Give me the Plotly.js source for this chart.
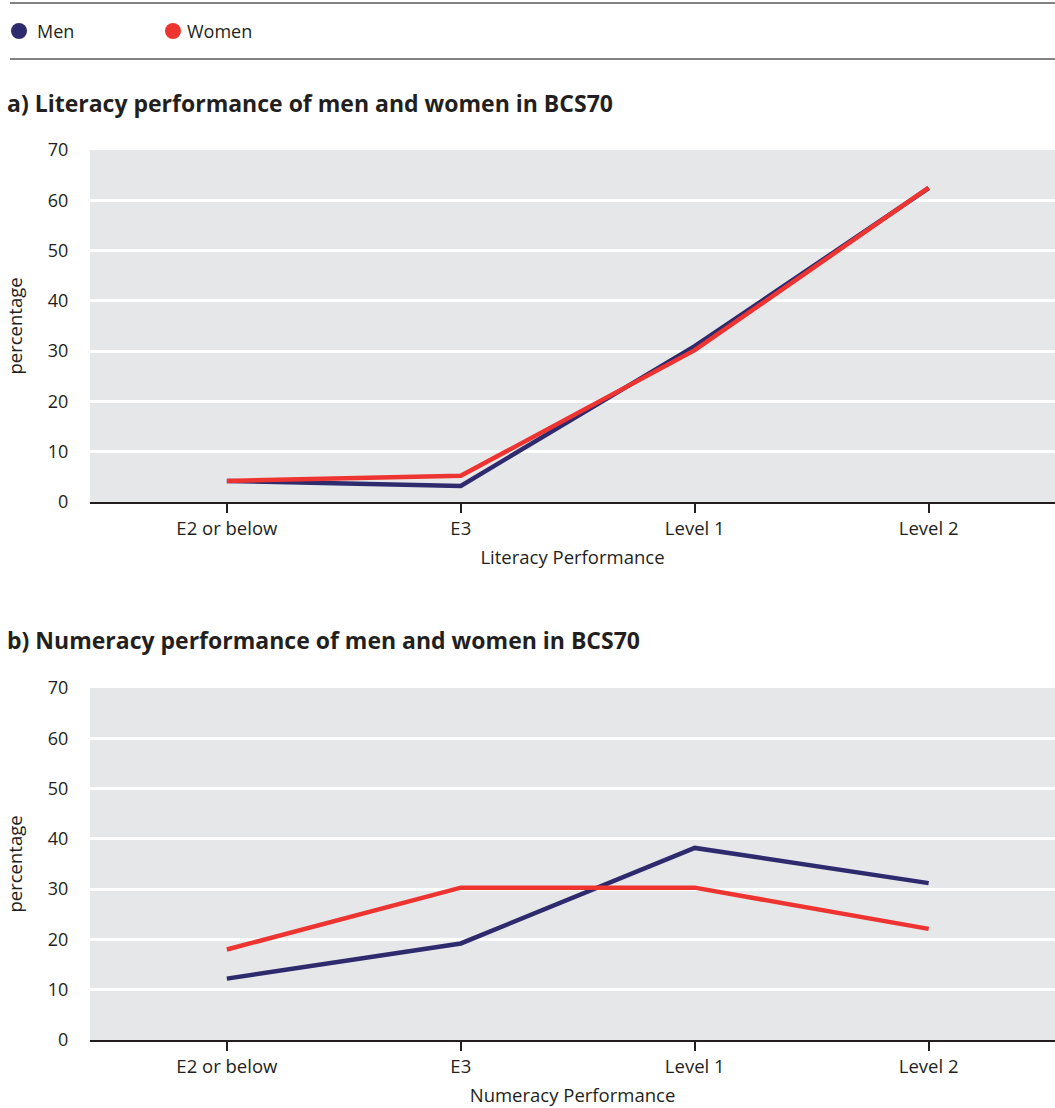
<!DOCTYPE html>
<html>
<head>
<meta charset="utf-8">
<script src="https://cdn.plot.ly/plotly-3.0.1.min.js"></script>
<style>
html,body{margin:0;padding:0;background:#fff;}
#chart{width:1055px;height:1108px;}
</style>
</head>
<body>
<div id="chart"></div>
<script>
// ---- data ----
const categories = ["E2 or below", "E3", "Level 1", "Level 2"];
const literacyMen = [4.2, 3.2, 31.0, 62.4];
const literacyWomen = [4.2, 5.2, 30.2, 62.5];
const numeracyMen = [12.2, 19.2, 38.2, 31.2];
const numeracyWomen = [18.0, 30.3, 30.3, 22.1];
const seriesNames = ["Men", "Women"];
const yTicks = [0, 10, 20, 30, 40, 50, 60, 70];
const panelTitles = ["a) Literacy performance of men and women in BCS70", "b) Numeracy performance of men and women in BCS70"];
const xTitles = ["Literacy Performance", "Numeracy Performance"];
const yTitle = "percentage";

// ---- styles ----
const W = 1055, H = 1108;
const menColor = "#2e2a6e";
const womenColor = "#ee3431";
const textColor = "#231f20";
const bg = "#e6e7e8";
const FONT = "'Open Sans', Roboto, sans-serif";

function py(px) { return 1 - px / H; }
function pxX(px) { return px / W; }

const traces = [
  {x: categories, y: literacyMen, name: seriesNames[0], type: "scatter", mode: "lines", line: {color: menColor, width: 4.5}, xaxis: "x", yaxis: "y", showlegend: false},
  {x: categories, y: literacyWomen, name: seriesNames[1], type: "scatter", mode: "lines", line: {color: womenColor, width: 4.5}, xaxis: "x", yaxis: "y", showlegend: false},
  {x: categories, y: numeracyMen, name: seriesNames[0], type: "scatter", mode: "lines", line: {color: menColor, width: 4.5}, xaxis: "x2", yaxis: "y2", showlegend: false},
  {x: categories, y: numeracyWomen, name: seriesNames[1], type: "scatter", mode: "lines", line: {color: womenColor, width: 4.5}, xaxis: "x2", yaxis: "y2", showlegend: false}
];

function xAxis(title, anchor) {
  return {
    domain: [pxX(90), 1],
    anchor: anchor,
    type: "category",
    range: [-0.585, 3.54],
    showgrid: false,
    zeroline: false,
    showline: true,
    linecolor: textColor,
    linewidth: 2,
    ticks: "outside",
    ticklen: 9,
    tickwidth: 2,
    tickcolor: textColor,
    tickfont: {family: FONT, size: 18.5, color: textColor},
    title: {text: title, font: {family: FONT, size: 18.5, color: textColor}, standoff: 12},
    fixedrange: true
  };
}
function yAxis(domain, anchor) {
  return {
    domain: domain,
    anchor: anchor,
    range: [0, 70],
    tickvals: yTicks,
    showgrid: true,
    gridcolor: "#ffffff",
    gridwidth: 3,
    zeroline: false,
    showline: false,
    ticks: "outside",
    ticklen: 17,
    tickcolor: "rgba(0,0,0,0)",
    tickfont: {family: FONT, size: 18, color: textColor},
    title: {text: yTitle, font: {family: FONT, size: 18.5, color: textColor}, standoff: 20},
    fixedrange: true
  };
}

const layout = {
  width: W, height: H,
  margin: {l: 0, r: 0, t: 0, b: 0},
  paper_bgcolor: "#ffffff",
  plot_bgcolor: bg,
  showlegend: false,
  xaxis: xAxis(xTitles[0], "y"),
  yaxis: yAxis([py(502), py(150)], "x"),
  xaxis2: xAxis(xTitles[1], "y2"),
  yaxis2: yAxis([py(1040), py(688)], "x2"),
  shapes: [
    {type: "line", xref: "paper", yref: "paper", x0: pxX(10), x1: 1, y0: py(3), y1: py(3), line: {color: "#58595b", width: 1.5}},
    {type: "line", xref: "paper", yref: "paper", x0: pxX(10), x1: 1, y0: py(59), y1: py(59), line: {color: "#58595b", width: 1.5}},
    {type: "circle", xref: "paper", yref: "paper", x0: pxX(11), x1: pxX(27), y0: py(39), y1: py(23), fillcolor: menColor, line: {width: 0}},
    {type: "circle", xref: "paper", yref: "paper", x0: pxX(165), x1: pxX(181), y0: py(39), y1: py(23), fillcolor: womenColor, line: {width: 0}}
  ],
  annotations: [
    {xref: "paper", yref: "paper", x: pxX(35), y: py(31), xanchor: "left", yanchor: "middle", showarrow: false, text: seriesNames[0], font: {family: FONT, size: 18, color: textColor}},
    {xref: "paper", yref: "paper", x: pxX(185), y: py(31), xanchor: "left", yanchor: "middle", showarrow: false, text: seriesNames[1], font: {family: FONT, size: 18, color: textColor}},
    {xref: "paper", yref: "paper", x: pxX(5), y: py(103), xanchor: "left", yanchor: "middle", showarrow: false, text: "<b>" + panelTitles[0] + "</b>", font: {family: FONT, size: 23, color: textColor}},
    {xref: "paper", yref: "paper", x: pxX(5), y: py(640), xanchor: "left", yanchor: "middle", showarrow: false, text: "<b>" + panelTitles[1] + "</b>", font: {family: FONT, size: 23, color: textColor}}
  ]
};

Plotly.newPlot("chart", traces, layout, {displayModeBar: false, staticPlot: true});
</script>
</body>
</html>
